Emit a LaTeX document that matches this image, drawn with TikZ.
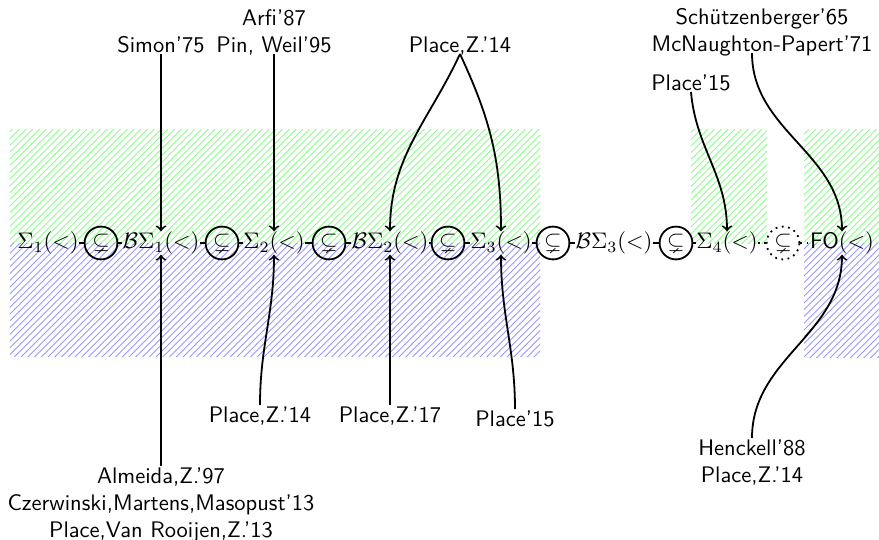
\documentclass[tikz,border=0pt]{standalone}
\usepackage{amssymb}
\usetikzlibrary{patterns,calc}
\begin{document}
\begin{tikzpicture}[x=0.4444pt,y=0.4444pt,
  term/.style={inner sep=0pt},
  incl/.style={circle,draw,thick,inner sep=1.3pt},
  openincl/.style={incl,dotted},
  ref/.style={font=\sffamily,align=center,inner sep=0.5pt,text depth=0pt},
  cite/.style={->,thick},
  link/.style={thick},
  upper/.style={pattern=north east lines,pattern color=green!45},
  lower/.style={pattern=north east lines,pattern color=blue!40}]
\useasboundingbox (0,0) rectangle (879,-540);

% hatched areas
\fill[upper] (10,-129) rectangle (540,-243);
\fill[lower] (10,-243) rectangle (540,-356);
\fill[upper] (691,-129) rectangle (767,-243);
\fill[upper] (804,-129) rectangle (879,-243);
\fill[lower] (804,-243) rectangle (879,-357);

% hierarchy
\node[term] (s1)  at (48,-243)  {$\Sigma_1(<)$};
\node[incl] (i1)  at (101,-243) {$\subsetneq$};
\node[term] (bs1) at (161,-243) {$\mathcal{B}\Sigma_1(<)$};
\node[incl] (i2)  at (222,-243) {$\subsetneq$};
\node[term] (s2)  at (274,-243) {$\Sigma_2(<)$};
\node[incl] (i3)  at (329,-243) {$\subsetneq$};
\node[term] (bs2) at (390,-243) {$\mathcal{B}\Sigma_2(<)$};
\node[incl] (i4)  at (448,-243) {$\subsetneq$};
\node[term] (s3)  at (501,-243) {$\Sigma_3(<)$};
\node[incl] (i5)  at (553,-243) {$\subsetneq$};
\node[term] (bs3) at (614,-243) {$\mathcal{B}\Sigma_3(<)$};
\node[incl] (i6)  at (676,-243) {$\subsetneq$};
\node[term] (s4)  at (727,-243) {$\Sigma_4(<)$};
\node[openincl] (i7) at (783,-243) {$\subsetneq$};
\node[term] (fo)  at (842,-243) {$\textsf{FO}(<)$};

\draw[link] (s1) -- (i1) -- (bs1) -- (i2) -- (s2) -- (i3) -- (bs2) -- (i4)
  -- (s3) -- (i5) -- (bs3) -- (i6) -- (s4);
\draw[link,dotted] (s4) -- (i7) -- (fo);

% references above
\node[ref,anchor=south] (simon) at (161,-54) {Simon'75};
\node[ref,anchor=south] (arfi)  at (274,-54) {Arfi'87\\Pin, Weil'95};
\node[ref,anchor=south] (pza)   at (460,-54) {Place,Z.'14};
\node[ref,anchor=south] (pla)   at (691,-92) {Place'15};
\node[ref,anchor=south] (mcn)   at (762,-53) {Schützenberger'65\\McNaughton-Papert'71};

% references below
\node[ref,anchor=north,text depth=1.5pt] (azv) at (161,-466) {Almeida,Z.'97\\Czerwinski,Martens,Masopust'13\\Place,Van Rooijen,Z.'13};
\node[ref,anchor=north] (pzb)  at (260,-405) {Place,Z.'14};
\node[ref,anchor=north] (pz17) at (390,-405) {Place,Z.'17};
\node[ref,anchor=north] (plb)  at (515,-409) {Place'15};
\node[ref,anchor=north] (hen)  at (752,-438) {Henckell'88\\Place,Z.'14};

% citations
\draw[cite] (simon.south) -- (bs1.north);
\draw[cite] (arfi.south) -- (s2.north);
\draw[cite] (pza.south) to[out=-115,in=90] (bs2.north);
\draw[cite] (pza.south) to[out=-65,in=90] (s3.north);
\draw[cite] (pla.south) to[out=-85,in=90] (s4.north);
\draw[cite] ($(mcn.south)+(-10,0)$) to[out=-90,in=90] (fo.north);

\draw[cite] (azv.north) -- (bs1.south);
\draw[cite] (pzb.north) to[out=90,in=-90] (s2.south);
\draw[cite] (pz17.north) -- (bs2.south);
\draw[cite] (plb.north) to[out=90,in=-90] (s3.south);
\draw[cite] (hen.north) to[out=90,in=-90] (fo.south);
\end{tikzpicture}
\end{document}
